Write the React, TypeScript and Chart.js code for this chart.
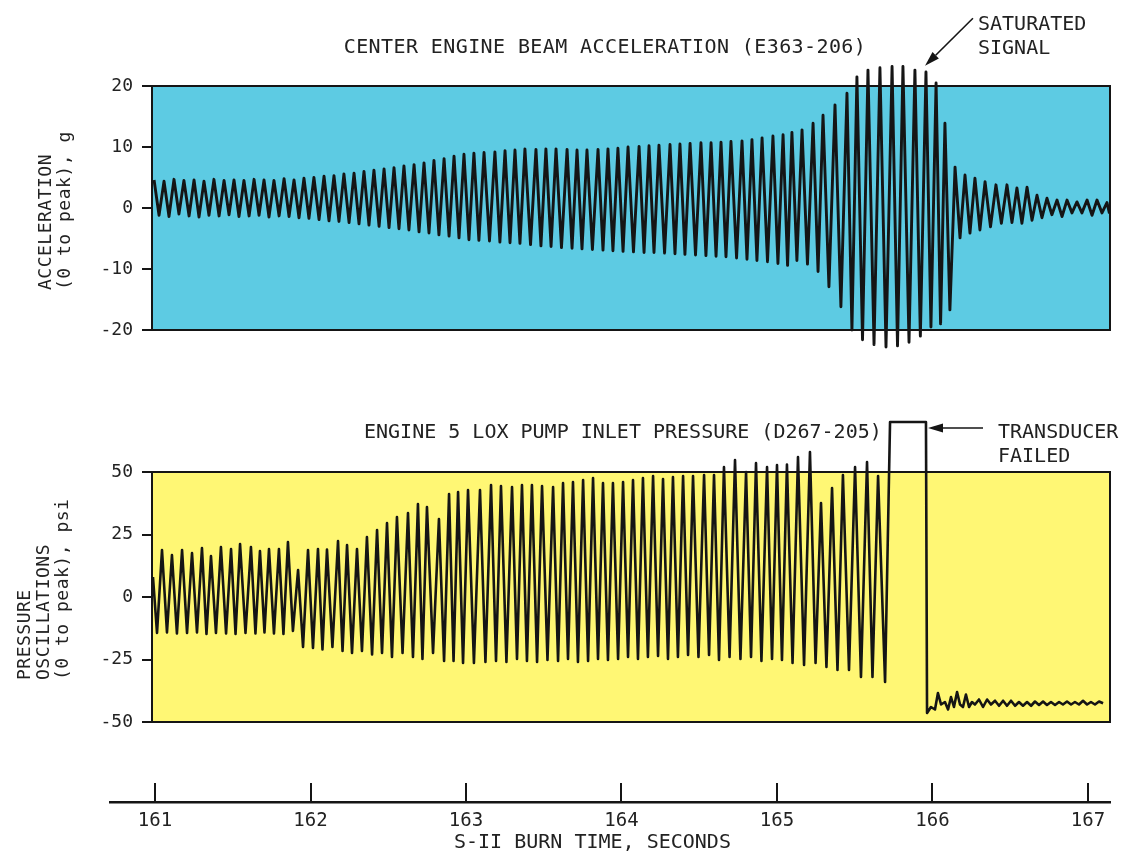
import React, { useEffect, useRef } from "react";
import { Chart, registerables } from "chart.js";

Chart.register(...registerables);

// ---------------- DATA ----------------
// All times are milliseconds after 161.000 s of S-II burn time.
const TIME_ORIGIN_S = 161;
const timeTicks = [161, 162, 163, 164, 165, 166, 167];
const accelTicks = [-20, -10, 0, 10, 20];
const pressureTicks = [-50, -25, 0, 25, 50];

// Center engine beam acceleration (E363-206), g : positive peaks and negative troughs per cycle
const accelPeakMs = [
  -6, 58, 122, 186, 251, 315, 379, 444, 508, 572,
  637, 701, 765, 830, 894, 958, 1022, 1087, 1151, 1215,
  1280, 1344, 1408, 1473, 1537, 1601, 1666, 1730, 1794, 1859,
  1923, 1987,
  2051, 2116, 2186, 2251, 2315, 2379, 2450, 2514, 2579, 2650,
  2714, 2778, 2849, 2913, 2977, 3042, 3113, 3177, 3241, 3312,
  3376, 3441, 3511, 3576, 3640, 3704, 3775, 3839, 3904, 3974,
  4039,
  4096, 4161, 4232, 4296, 4373, 4450, 4514, 4585, 4662, 4740,
  4810, 4887, 4958, 5023, 5080, 5145, 5209, 5273, 5338, 5408,
  5479, 5543, 5608, 5672, 5736, 5801, 5865, 5929, 5994, 6058,
  6122,
];
const accelPeakG = [
  4.6, 4.4, 4.7, 4.5, 4.6, 4.4, 4.7, 4.5, 4.6, 4.5,
  4.7, 4.6, 4.5, 4.8, 4.6, 4.9, 5.0, 5.2, 5.3, 5.6,
  5.7, 6.0, 6.2, 6.4, 6.6, 6.9, 7.1, 7.4, 7.8, 8.1,
  8.5, 8.8,
  9.0, 9.1, 9.2, 9.4, 9.5, 9.7, 9.6, 9.7, 9.7, 9.6,
  9.5, 9.5, 9.6, 9.7, 9.8, 10.0, 10.1, 10.2, 10.3, 10.4,
  10.5, 10.6, 10.7, 10.7, 10.8, 10.9, 11.0, 11.2, 11.5, 11.8,
  12.0,
  12.4, 12.8, 13.9, 15.2, 16.9, 18.8, 21.5, 22.6, 23.0, 23.2,
  23.2, 22.6, 22.3, 20.5, 13.9, 6.7, 5.4, 4.9, 4.3, 3.8,
  3.8, 3.3, 3.4, 2.1, 1.6, 1.3, 1.3, 1.0, 1.3, 1.3,
  0.9,
];
const accelTroughMs = [
  26, 90, 154, 219, 283, 347, 412, 476, 540, 605,
  669, 733, 798, 862, 926, 990, 1055, 1119, 1183, 1248,
  1312, 1376, 1441, 1505, 1569, 1633, 1698, 1762, 1826, 1891,
  1955, 2019,
  2083, 2151, 2218, 2283, 2347, 2415, 2482, 2547, 2614, 2682,
  2746, 2813, 2881, 2945, 3010, 3077, 3145, 3209, 3277, 3344,
  3408, 3476, 3543, 3608, 3672, 3740, 3807, 3871, 3939, 4006,
  4068,
  4128, 4196, 4264, 4334, 4411, 4482, 4550, 4624, 4701, 4775,
  4849, 4922, 4990, 5052, 5112, 5177, 5241, 5305, 5373, 5443,
  5511, 5575, 5640, 5704, 5768, 5833, 5897, 5961, 6026, 6090,
  6138,
];
const accelTroughG = [
  -1.2, -1.4, -1.0, -1.3, -1.5, -1.2, -1.3, -1.1, -1.4, -1.3,
  -1.2, -1.5, -1.3, -1.4, -1.6, -1.7, -1.9, -2.1, -2.2, -2.4,
  -2.6, -2.8, -3.0, -3.2, -3.4, -3.6, -3.9, -4.1, -4.4, -4.6,
  -4.9, -5.2,
  -5.3, -5.4, -5.6, -5.7, -5.8, -6.0, -6.2, -6.3, -6.5, -6.6,
  -6.7, -6.8, -6.9, -7.0, -7.1, -7.2, -7.3, -7.3, -7.4, -7.5,
  -7.6, -7.7, -7.8, -7.9, -8.0, -8.2, -8.4, -8.6, -8.8, -9.1,
  -9.4,
  -8.6, -9.2, -10.4, -12.9, -16.2, -20.0, -21.6, -22.4, -22.8, -22.6,
  -22.0, -21.0, -19.5, -19.0, -16.7, -4.9, -4.1, -3.6, -3.1, -2.5,
  -2.4, -2.5, -2.0, -1.6, -1.1, -1.4, -0.8, -0.8, -1.2, -0.8,
  -0.9,
];

// Engine 5 LOX pump inlet pressure (D267-205), psi : alternating extremes
const pressureMs = [
  -13, 13, 45, 77, 109, 141, 174, 206, 238, 270,
  302, 331, 360, 392, 424, 457, 489, 518, 547, 582,
  617, 646, 675, 704, 733, 765, 797, 826, 855, 887,
  920, 952, 984, 1016, 1048, 1077, 1106, 1141, 1177, 1206,
  1235, 1267, 1299, 1331, 1363, 1396, 1428, 1460, 1492, 1524,
  1556, 1592, 1627, 1659, 1691, 1720, 1749, 1788, 1826, 1859,
  1891, 1920, 1949, 1981, 2013, 2051, 2090, 2125, 2161, 2193,
  2225, 2260, 2296, 2328, 2360, 2392, 2424, 2457, 2489, 2524,
  2560, 2592, 2624, 2656, 2688, 2720, 2753, 2785, 2817, 2849,
  2881, 2913, 2945, 2978, 3010, 3042, 3074, 3106, 3138, 3170,
  3203, 3235, 3267, 3299, 3331, 3363, 3396, 3428, 3460, 3495,
  3531, 3563, 3595, 3627, 3659, 3695, 3730, 3765, 3801, 3833,
  3865, 3900, 3936, 3968, 4000, 4032, 4064, 4100, 4135, 4174,
  4212, 4248, 4283, 4318, 4354, 4389, 4424, 4463, 4502, 4540,
  4579, 4614, 4650, 4695, 4727, 4958, 4965,
];
const pressurePsi = [
  8, -14.4, 18.8, -14.2, 16.8, -14.6, 18.8, -14.4, 17.6, -14.2,
  19.6, -14.8, 16.4, -14.4, 20.0, -14.6, 19.2, -14.8, 21.2, -14.4,
  20.0, -14.6, 18.4, -14.2, 19.2, -14.6, 19.2, -14.8, 22.0, -13.6,
  10.8, -20.0, 18.8, -20.4, 19.2, -21.0, 19.0, -20.0, 22.4, -21.6,
  20.8, -22.4, 19.2, -21.6, 24.0, -23.0, 26.8, -22.4, 29.6, -24.0,
  32.0, -22.4, 33.6, -24.0, 37.2, -24.8, 36.0, -22.4, 31.2, -25.6,
  41.2, -25.6, 42.0, -26.4, 42.8, -26.4, 42.8, -26.0, 44.8, -25.6,
  44.4, -26.0, 44.0, -24.8, 44.8, -25.6, 44.8, -26.0, 44.4, -25.2,
  44.0, -25.6, 45.6, -24.8, 46.0, -26.0, 46.8, -25.6, 47.6, -24.8,
  45.6, -25.2, 45.6, -24.8, 46.0, -24.0, 46.8, -24.8, 47.6, -24.0,
  48.4, -23.6, 47.2, -24.8, 48.0, -24.0, 48.4, -23.2, 48.4, -24.0,
  48.8, -23.2, 48.8, -25.2, 52.0, -24.0, 54.8, -24.8, 50.0, -24.0,
  53.6, -25.6, 52.0, -24.8, 52.8, -25.2, 53.0, -26.4, 56.0, -27.2,
  58.0, -26.4, 37.6, -28.0, 43.6, -29.2, 48.8, -29.2, 52.0, -32.0,
  54.0, -32.0, 48.4, -34.0, 70, 70, -46.4,
];
// after transducer failure
const failedMs = [
  4990, 5016, 5035, 5055, 5080, 5100, 5119, 5138, 5158, 5177,
  5196, 5215, 5235, 5254, 5273, 5299, 5325, 5351, 5376, 5402,
  5428, 5454, 5479, 5505, 5531, 5556, 5582, 5608, 5634, 5659,
  5685, 5711, 5736, 5762, 5788, 5814, 5839, 5865, 5891, 5916,
  5942, 5968, 5994, 6019, 6045, 6071, 6097,
];
const failedPsi = [
  -44, -45, -38.4, -43, -42, -45, -40, -44, -38, -43,
  -44, -39, -44, -42, -43, -41, -44, -41, -43, -41.5,
  -43.5, -41.5, -43.5, -41.5, -43.5, -42, -43.5, -42, -43.5, -41.8,
  -43.2, -41.8, -43.2, -42, -43.2, -42, -43, -41.8, -43, -42,
  -43, -41.5, -43, -42, -43, -41.8, -42.5,
];

// annotation arrows (data coordinates: seconds, axis units)
const saturatedArrow = { fromT: 166.26, fromV: 31.1, toT: 165.952, toV: 23.3 };
const failedArrow = { fromT: 166.325, fromV: 67.6, toT: 165.971, toV: 67.6 };

// ---------------- STYLE ----------------
const MONO = '"DejaVu Sans Mono", "Liberation Mono", monospace';
const INK = "#151515";
const TEXT = "#222222";
const CYAN = "#5dcbe3";
const YELLOW = "#fff774";
const W = 1125;
const H = 852;
const X_MIN_PANEL = 160.9807;
const X_MAX = 167.1415;
const X_MIN_AXIS = 160.7106;

const toSeconds = (ms: number) => TIME_ORIGIN_S + ms / 1000;

function panelPlugin(bg: string) {
  return {
    id: "panelFrame",
    beforeDraw(chart: any) {
      const { ctx, chartArea } = chart;
      const { left, top, right, bottom } = chartArea;
      ctx.save();
      ctx.fillStyle = bg;
      ctx.fillRect(left, top, right - left, bottom - top);
      ctx.restore();
    },
    afterDraw(chart: any) {
      const { ctx, chartArea } = chart;
      const { left, top, right, bottom } = chartArea;
      ctx.save();
      ctx.strokeStyle = INK;
      ctx.lineWidth = 2;
      ctx.strokeRect(left, top, right - left, bottom - top);
      ctx.restore();
    },
  };
}

function arrowPlugin(a: { fromT: number; fromV: number; toT: number; toV: number }) {
  return {
    id: "arrowNote",
    afterDraw(chart: any) {
      const { ctx, scales } = chart;
      const x1 = scales.x.getPixelForValue(a.fromT);
      const y1 = scales.y.getPixelForValue(a.fromV);
      const x2 = scales.x.getPixelForValue(a.toT);
      const y2 = scales.y.getPixelForValue(a.toV);
      const ang = Math.atan2(y2 - y1, x2 - x1);
      const len = 15;
      const hw = 4.5;
      const bx = x2 - len * Math.cos(ang);
      const by = y2 - len * Math.sin(ang);
      ctx.save();
      ctx.strokeStyle = INK;
      ctx.fillStyle = INK;
      ctx.lineWidth = 1.6;
      ctx.beginPath();
      ctx.moveTo(x1, y1);
      ctx.lineTo(bx, by);
      ctx.stroke();
      ctx.beginPath();
      ctx.moveTo(x2, y2);
      ctx.lineTo(bx + hw * Math.sin(ang), by - hw * Math.cos(ang));
      ctx.lineTo(bx - hw * Math.sin(ang), by + hw * Math.cos(ang));
      ctx.closePath();
      ctx.fill();
      ctx.restore();
    },
  };
}

function panelOptions(yMin: number, yMax: number, yTicks: number[], padTop: number, padBottom: number) {
  return {
    responsive: false,
    animation: false as const,
    devicePixelRatio: 1,
    events: [],
    layout: { padding: { left: 0, top: padTop, right: W - 1110, bottom: padBottom } },
    plugins: { legend: { display: false }, tooltip: { enabled: false }, title: { display: false } },
    scales: {
      x: { type: "linear" as const, display: false, min: X_MIN_PANEL, max: X_MAX },
      y: {
        type: "linear" as const,
        min: yMin,
        max: yMax,
        afterBuildTicks: (s: any) => {
          s.ticks = yTicks.map((v) => ({ value: v }));
        },
        afterFit: (s: any) => {
          s.width = 152;
        },
        grid: { drawOnChartArea: false, drawTicks: true, tickLength: 10, color: INK, lineWidth: 2 },
        border: { display: true, color: INK, width: 2 },
        ticks: { font: { family: MONO, size: 18 }, color: TEXT, padding: 9 },
      },
    },
  };
}

export default function App() {
  const accelRef = useRef<HTMLCanvasElement>(null);
  const pressRef = useRef<HTMLCanvasElement>(null);
  const axisRef = useRef<HTMLCanvasElement>(null);

  useEffect(() => {
    const accelData: { x: number; y: number }[] = [];
    for (let i = 0; i < accelPeakMs.length; i++) {
      accelData.push({ x: toSeconds(accelPeakMs[i]), y: accelPeakG[i] });
      accelData.push({ x: toSeconds(accelTroughMs[i]), y: accelTroughG[i] });
    }
    const pressData = pressureMs
      .map((ms, i) => ({ x: toSeconds(ms), y: pressurePsi[i] }))
      .concat(failedMs.map((ms, i) => ({ x: toSeconds(ms), y: failedPsi[i] })));

    const c1 = new Chart(accelRef.current as HTMLCanvasElement, {
      type: "line",
      data: {
        datasets: [
          {
            data: accelData,
            borderColor: INK,
            borderWidth: 2.9,
            pointRadius: 0,
            tension: 0,
            fill: false,
            clip: false as any,
            borderJoinStyle: "round",
          },
        ],
      },
      options: panelOptions(-20, 20, accelTicks, 86, H - 330) as any,
      plugins: [panelPlugin(CYAN), arrowPlugin(saturatedArrow)],
    });

    const c2 = new Chart(pressRef.current as HTMLCanvasElement, {
      type: "line",
      data: {
        datasets: [
          {
            data: pressData,
            borderColor: INK,
            borderWidth: 2.6,
            pointRadius: 0,
            tension: 0,
            fill: false,
            clip: false as any,
            borderJoinStyle: "round",
          },
        ],
      },
      options: panelOptions(-50, 50, pressureTicks, 472, H - 722) as any,
      plugins: [panelPlugin(YELLOW), arrowPlugin(failedArrow)],
    });

    const c3 = new Chart(axisRef.current as HTMLCanvasElement, {
      type: "line",
      data: { datasets: [] },
      options: {
        responsive: false,
        animation: false,
        devicePixelRatio: 1,
        events: [],
        layout: { padding: { left: 110, top: 783, right: W - 1110, bottom: 0 } },
        plugins: { legend: { display: false }, tooltip: { enabled: false } },
        scales: {
          x: {
            type: "linear",
            min: X_MIN_AXIS,
            max: X_MAX,
            afterBuildTicks: (s: any) => {
              s.ticks = timeTicks.map((v) => ({ value: v }));
            },
            afterFit: (s: any) => {
              s.height = H - 802;
            },
            grid: { drawOnChartArea: true, drawTicks: false, color: INK, lineWidth: 2 },
            border: { display: true, color: INK, width: 2.5 },
            ticks: {
              font: { family: MONO, size: 19 },
              color: TEXT,
              padding: 8,
              autoSkip: false,
              maxRotation: 0,
              callback: (v: any) => String(v),
            },
          },
          y: { display: false, min: 0, max: 1 },
        },
      } as any,
    });

    return () => {
      c1.destroy();
      c2.destroy();
      c3.destroy();
    };
  }, []);

  const canvasStyle: React.CSSProperties = { position: "absolute", left: 0, top: 0, width: W, height: H };
  const txt = (extra: React.CSSProperties): React.CSSProperties => ({
    position: "absolute",
    fontFamily: MONO,
    fontSize: 20,
    lineHeight: "20px",
    color: TEXT,
    whiteSpace: "pre",
    ...extra,
  });
  const rot = (extra: React.CSSProperties): React.CSSProperties => ({
    position: "absolute",
    fontFamily: MONO,
    fontSize: 18,
    lineHeight: "19px",
    letterSpacing: "0.5px",
    color: TEXT,
    whiteSpace: "pre",
    transformOrigin: "0 0",
    transform: "rotate(-90deg)",
    ...extra,
  });

  return (
    <div style={{ position: "absolute", left: 0, top: 0, width: W, height: H, background: "#ffffff", overflow: "hidden" }}>
      <canvas ref={accelRef} width={W} height={H} style={canvasStyle} />
      <canvas ref={pressRef} width={W} height={H} style={canvasStyle} />
      <canvas ref={axisRef} width={W} height={H} style={canvasStyle} />

      <div style={txt({ left: 605, top: 36, transform: "translateX(-50%)", letterSpacing: "0.4px" })}>
        CENTER ENGINE BEAM ACCELERATION (E363-206)
      </div>
      <div style={txt({ left: 978, top: 13 })}>SATURATED</div>
      <div style={txt({ left: 978, top: 37 })}>SIGNAL</div>

      <div style={txt({ left: 364, top: 421 })}>ENGINE 5 LOX PUMP INLET PRESSURE (D267-205)</div>
      <div style={txt({ left: 998, top: 421 })}>TRANSDUCER</div>
      <div style={txt({ left: 998, top: 445 })}>FAILED</div>

      <div style={txt({ left: 454, top: 831 })}>S-II BURN TIME, SECONDS</div>

      <div style={rot({ left: 35, top: 290 })}>{"ACCELERATION\n(0 to peak), g"}</div>
      <div style={rot({ left: 14, top: 680 })}>{"PRESSURE\nOSCILLATIONS\n(0 to peak), psi"}</div>
    </div>
  );
}
